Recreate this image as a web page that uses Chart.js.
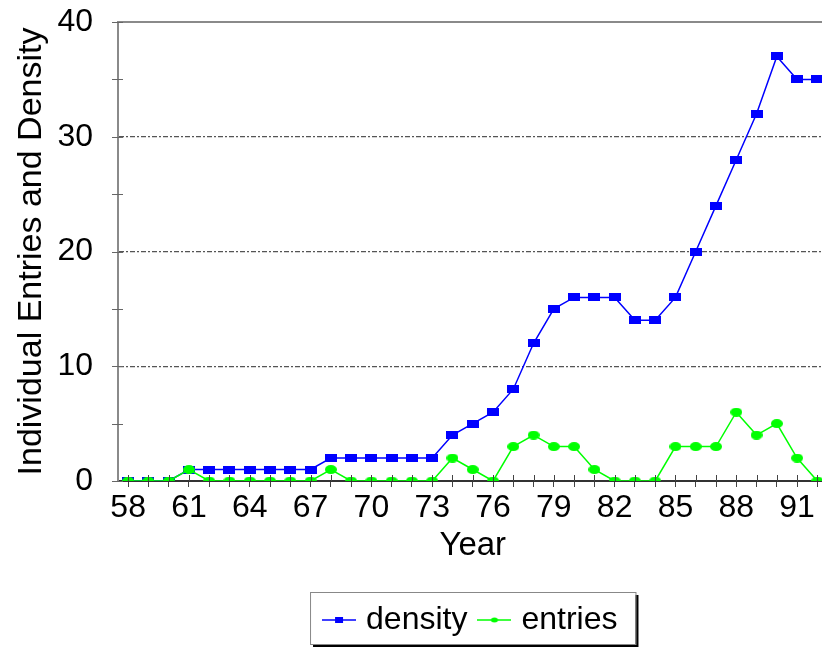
<!DOCTYPE html>
<html>
<head>
<meta charset="utf-8">
<script src="https://cdn.jsdelivr.net/npm/chart.js@4/dist/chart.umd.min.js"></script>
<style>
html,body{margin:0;padding:0;background:#fff;overflow:hidden;}
#wrap{position:relative;width:834px;height:650px;}
</style>
</head>
<body>
<div id="wrap"><canvas id="c"></canvas></div>
<script>
const years = ['58','59','60','61','62','63','64','65','66','67','68','69','70','71','72','73','74','75','76','77','78','79','80','81','82','83','84','85','86','87','88','89','90','91','92'];
const density = [0,0,0,1,1,1,1,1,1,1,2,2,2,2,2,2,4,5,6,8,12,15,16,16,16,14,14,16,20,24,28,32,37,35,35];
const entries = [0,0,0,1,0,0,0,0,0,0,1,0,0,0,0,0,2,1,0,3,4,3,3,1,0,0,0,3,3,3,6,4,5,2,0];
const yTicksLabelled = [0,10,20,30,40];

const BLUE = '#0000ff';
const GREEN = '#00ff00';
const FONT = "'Liberation Sans', Arial, sans-serif";

function rectImg(color, w, h){
  const c = document.createElement('canvas'); c.width = w; c.height = h;
  const x = c.getContext('2d'); x.fillStyle = color; x.fillRect(0,0,w,h); return c;
}
function ellImg(color, w, h){
  const c = document.createElement('canvas'); c.width = w; c.height = h;
  const x = c.getContext('2d'); x.fillStyle = color; x.beginPath();
  x.ellipse(w/2, h/2, w/2, h/2, 0, 0, Math.PI*2); x.fill(); return c;
}
function legendImg(color, kind){
  const c = document.createElement('canvas'); c.width = 34; c.height = 10;
  const x = c.getContext('2d');
  x.strokeStyle = color; x.lineWidth = 1.5;
  x.beginPath(); x.moveTo(0,5); x.lineTo(34,5); x.stroke();
  x.fillStyle = color;
  if (kind === 'rect') x.fillRect(13,2,8,6);
  else { x.beginPath(); x.ellipse(17,5,3.5,2.5,0,0,Math.PI*2); x.fill(); }
  return c;
}
const blueMark = rectImg(BLUE, 12, 8);
const greenMark = ellImg(GREEN, 12, 9);
const blueLeg = legendImg(BLUE, 'rect');
const greenLeg = legendImg(GREEN, 'ell');

const framePlugin = {
  id: 'frame',
  beforeDraw(chart){
    const ctx = chart.ctx;
    const lg = chart.legend;
    if (lg && lg.legendHitBoxes && lg.legendHitBoxes.length){
      const hb = lg.legendHitBoxes;
      const first = hb[0], last = hb[hb.length-1];
      const cy = first.top + first.height/2;
      const l = first.left - 18, r = last.left + last.width + 18;
      const t = cy - 28, b = cy + 24;
      ctx.save();
      ctx.fillStyle = '#000';
      ctx.fillRect(l+3, t+3, r-l, b-t);
      ctx.fillStyle = '#fff';
      ctx.fillRect(l, t, r-l, b-t);
      ctx.strokeStyle = '#888'; ctx.lineWidth = 1;
      ctx.strokeRect(l+0.5, t+0.5, r-l, b-t);
      ctx.restore();
    }
  },
  afterDatasetsDraw(chart){
    const ctx = chart.ctx, a = chart.chartArea;
    const xs = chart.scales.x, ys = chart.scales.y;
    ctx.save();
    ctx.strokeStyle = '#8a8a8a'; ctx.lineWidth = 2;
    ctx.beginPath(); ctx.moveTo(a.left, a.top); ctx.lineTo(a.right+10, a.top); ctx.stroke();
    ctx.strokeStyle = '#666'; ctx.lineWidth = 1;
    ys.ticks.forEach(t => {
      const y = Math.round(ys.getPixelForValue(t.value)) + 0.5;
      ctx.beginPath(); ctx.moveTo(a.left-6, y); ctx.lineTo(a.left+5, y); ctx.stroke();
    });
    ctx.strokeStyle = '#444';
    years.forEach((yr, i) => {
      const x = Math.round(xs.getPixelForValue(i)) + 0.5;
      ctx.beginPath(); ctx.moveTo(x, a.bottom); ctx.lineTo(x, a.bottom-6); ctx.stroke();
    });
    ctx.restore();
  }
};

new Chart(document.getElementById('c'), {
  type: 'line',
  data: {
    labels: years,
    datasets: [
      {label: 'density', data: density, borderColor: BLUE, backgroundColor: BLUE, borderWidth: 1.5,
       pointStyle: blueMark, pointRadius: 5, order: 1, tension: 0},
      {label: 'entries', data: entries, borderColor: GREEN, backgroundColor: GREEN, borderWidth: 1.5,
       pointStyle: greenMark, pointRadius: 5, order: 0, tension: 0}
    ]
  },
  options: {
    responsive: true,
    maintainAspectRatio: false,
    animation: false,
    layout: {padding: {top: 22, right: 2, bottom: 4, left: 0}},
    plugins: {
      tooltip: {enabled: false},
      legend: {
        position: 'bottom',
        fullSize: false,
        labels: {
          font: {family: FONT, size: 32},
          color: '#000',
          usePointStyle: true,
          pointStyleWidth: 22,
          padding: 16,
          sort: (a, b) => a.datasetIndex - b.datasetIndex,
          generateLabels(chart){
            const items = Chart.defaults.plugins.legend.labels.generateLabels(chart);
            items.forEach(it => { it.pointStyle = it.datasetIndex === 0 ? blueLeg : greenLeg; });
            return items;
          }
        }
      }
    },
    scales: {
      x: {
        type: 'category',
        offset: true,
        grid: {offset: false, drawOnChartArea: false, drawTicks: true, tickLength: 6, tickColor: '#444'},
        border: {color: '#333', width: 2},
        ticks: {
          autoSkip: false, maxRotation: 0, minRotation: 0,
          font: {family: FONT, size: 32}, color: '#000', padding: 2,
          callback: function(v, i){ return i % 3 === 0 ? this.getLabelForValue(v) : ''; }
        },
        title: {display: true, text: 'Year', font: {family: FONT, size: 33}, color: '#000', padding: {top: 0, bottom: 22}},
        afterFit: s => { s.height = 107; }
      },
      y: {
        min: 0, max: 40,
        grid: {
          color: c => (c.tick && yTicksLabelled.includes(c.tick.value) && c.tick.value !== 0 && c.tick.value !== 40) ? '#555' : 'rgba(0,0,0,0)',
          lineWidth: 1.2,
          tickLength: 23, tickColor: 'rgba(0,0,0,0)', drawTicks: true
        },
        border: {color: '#8a8a8a', width: 2, dash: [5,2,2,2]},
        ticks: {
          stepSize: 5,
          font: {family: FONT, size: 32}, color: '#000', padding: 2,
          callback: v => yTicksLabelled.includes(v) ? String(v) : ''
        },
        title: {display: true, text: 'Individual Entries and Density', font: {family: FONT, size: 34}, color: '#000', padding: {top: 11, bottom: 0}},
        afterFit: s => { s.width = 118; }
      }
    }
  },
  plugins: [framePlugin]
});
</script>
</body>
</html>
